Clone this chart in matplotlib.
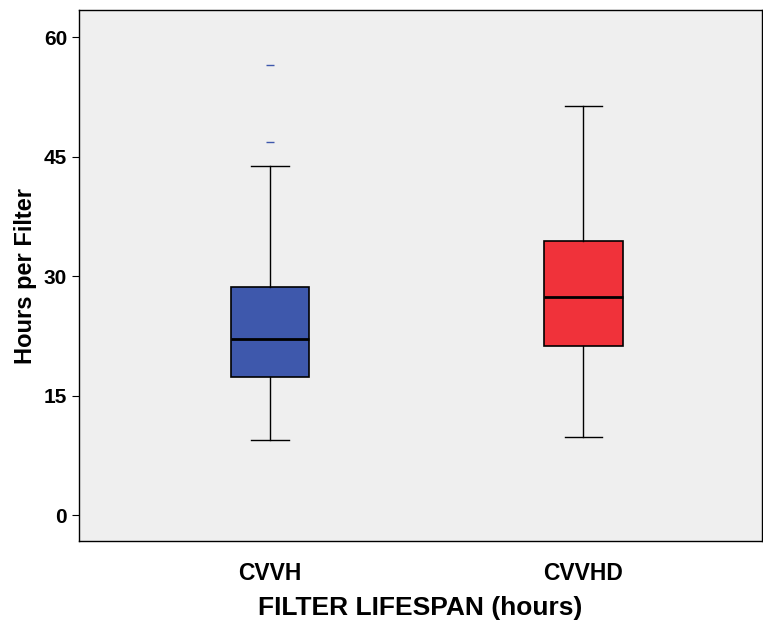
import matplotlib
matplotlib.use("Agg")
import matplotlib.pyplot as plt

# box summary values
groups = ["CVVH", "CVVHD"]
whislo = [9.4, 9.8]
q1 = [17.3, 21.2]
med = [22.1, 27.4]
q3 = [28.6, 34.4]
whishi = [43.8, 51.3]
fliers = [[46.8, 56.5], []]
colors = ["#3e58ac", "#f0323a"]

plt.rcParams['font.family'] = ['Liberation Sans', 'DejaVu Sans']

stats = []
for i in range(len(groups)):
    stats.append(dict(label=groups[i], whislo=whislo[i], q1=q1[i], med=med[i],
                      q3=q3[i], whishi=whishi[i], fliers=fliers[i]))

fig = plt.figure(figsize=(7.63, 6.24), dpi=100)
ax = fig.add_axes([79/763, 1 - 541/624, 683/763, 531/624])
ax.set_facecolor("#efefef")

bp = ax.bxp(stats, positions=[1, 2], widths=0.25, patch_artist=True,
            boxprops=dict(edgecolor="black", linewidth=1.2),
            medianprops=dict(color="black", linewidth=2),
            whiskerprops=dict(color="black", linewidth=1),
            capprops=dict(color="black", linewidth=1),
            capwidths=0.12,
            flierprops=dict(marker="_", markersize=6, markeredgecolor="#3e58ac",
                            markeredgewidth=1, linestyle="none"))
for patch, c in zip(bp["boxes"], colors):
    patch.set_facecolor(c)

ax.set_xlim(0.39, 2.57)
ax.set_ylim(-3.26, 63.4)
ax.set_yticks([0, 15, 30, 45, 60])
ax.set_xticks([1, 2])
ax.set_xticklabels(groups)
ax.tick_params(axis="x", length=0, pad=15, labelsize=16.5)
ax.tick_params(axis="y", length=5, labelsize=15)
for lbl in ax.get_xticklabels() + ax.get_yticklabels():
    lbl.set_fontweight("bold")
for s in ax.spines.values():
    s.set_linewidth(1)

ax.set_xlabel("FILTER LIFESPAN (hours)", fontsize=19, fontweight="bold", labelpad=8)
ax.set_ylabel("Hours per Filter", fontsize=17, fontweight="bold", labelpad=5)

fig.savefig("out.png", dpi=100)
